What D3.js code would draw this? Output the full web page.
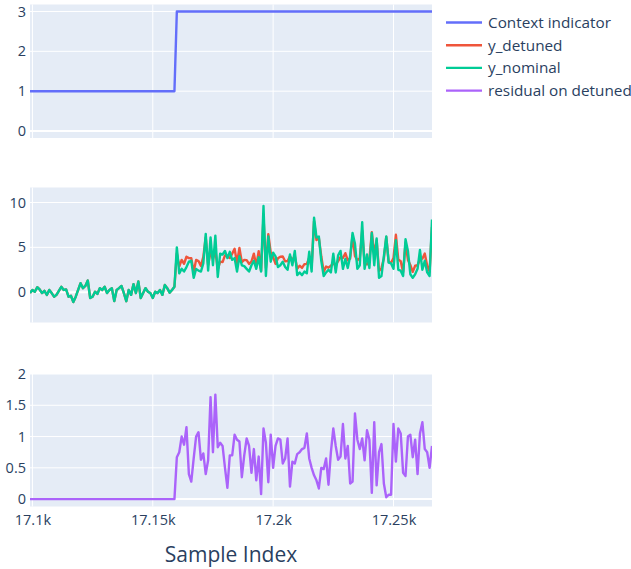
<!DOCTYPE html>
<html>
<head>
<meta charset="utf-8">
<script src="https://cdn.jsdelivr.net/npm/d3@7"></script>
<style>
  html, body { margin: 0; padding: 0; background: #fff; }
  svg { display: block; font-family: "Open Sans", "Noto Sans", sans-serif; }
</style>
</head>
<body>
<svg id="chart" width="631" height="569"></svg>
<script>
// ---- data -------------------------------------------------------------
const firstSample = 17099;

// context indicator: step from regime 1 to regime 3
const contextX = [17099, 17159, 17160, 17266];
const contextY = [1, 1, 3, 3];

// before the context change (17099 .. 17159) both outputs coincide
const outputBefore = [
  -0.1, 0.25, 0.05, 0.55, 0.3, -0.1, 0.15, -0.3, 0.25, -0.1,
  -0.5, -0.3, 0.15, 0.6, 0.25, 0.3, -0.5, -0.4, -1.1, -0.5,
  0.25, 1.0, 0.45, 0.7, 1.3, -0.65, -0.5, 0.05, -0.2, 0.45,
  0.25, 0.6, -0.1, 0.25, 0.45, -1.0, 0.25, 0.45, 0.7, -0.1,
  -1.0, 0.25, -0.3, 0.9, -0.1, 1.2, -0.65, -0.1, 0.45, 0.05,
  -0.1, -0.65, 0.05, -0.1, 0.25, -0.3, 0.8, 0.45, -0.05, 0.25,
  0.6
];

// after the change (17160 .. 17266)
const nominalAfter = [
  5.0, 2.1, 2.6, 2.3, 2.8, 3.4, 3.5, 1.6, 2.6, 2.4,
  2.3, 3.2, 6.5, 2.4, 6.1, 3.0, 6.3, 1.7, 4.3, 4.2,
  4.6, 3.8, 4.5, 3.6, 3.8, 2.3, 4.0, 3.0, 2.9, 2.6,
  2.3, 3.0, 3.5, 2.6, 3.9, 2.3, 9.6, 1.8, 6.2, 3.4,
  4.4, 4.0, 2.8, 3.0, 3.4, 2.8, 2.5, 4.2, 3.0, 4.6,
  1.9, 2.2, 1.9, 2.3, 2.1, 4.5, 2.3, 8.3, 6.1, 6.2,
  3.5, 1.8, 2.2, 2.5, 2.2, 4.3, 2.2, 4.1, 4.6, 2.6,
  3.7, 2.7, 4.0, 6.6, 5.4, 2.6, 3.0, 7.8, 2.6, 4.2,
  2.7, 6.6, 3.0, 6.0, 1.6, 1.8, 4.0, 6.2, 3.3, 3.2,
  2.6, 5.8, 2.5, 2.4, 1.8, 5.9, 4.6, 2.0, 1.6, 2.0,
  2.6, 4.7, 2.5, 3.5, 2.2, 1.8, 8.1
];

const detunedAfter = [
  4.33, 2.85, 3.6, 3.17, 3.95, 3.8, 3.78, 2.25, 3.6, 3.47,
  2.93, 3.93, 6.1, 3.02, 4.47, 3.75, 4.63, 2.53, 3.4, 3.35,
  4.1, 3.98, 3.8, 4.3, 4.83, 3.25, 4.92, 3.35, 3.6, 3.57,
  3.15, 3.42, 4.3, 2.9, 4.58, 2.38, 8.47, 2.7, 6.47, 4.43,
  3.9, 3.15, 3.77, 3.95, 3.97, 3.45, 3.47, 4.0, 3.6, 4.03,
  2.62, 2.95, 2.7, 3.12, 3.15, 3.85, 2.8, 7.92, 5.8, 6.03,
  4.0, 2.28, 2.85, 2.73, 2.95, 3.17, 3.05, 3.47, 3.92, 3.8,
  4.35, 3.55, 3.75, 6.32, 4.03, 3.55, 3.8, 6.83, 3.22, 3.1,
  3.65, 6.7, 4.23, 5.78, 2.35, 2.68, 3.75, 6.17, 3.37, 3.27,
  3.8, 6.4, 3.63, 3.45, 2.22, 5.53, 3.6, 3.03, 2.27, 2.95,
  3.0, 3.65, 3.73, 4.3, 2.95, 2.3, 7.25
];

const residualBefore = [
  0, 0, 0, 0, 0, 0, 0, 0, 0, 0,
  0, 0, 0, 0, 0, 0, 0, 0, 0, 0,
  0, 0, 0, 0, 0, 0, 0, 0, 0, 0,
  0, 0, 0, 0, 0, 0, 0, 0, 0, 0,
  0, 0, 0, 0, 0, 0, 0, 0, 0, 0,
  0, 0, 0, 0, 0, 0, 0, 0, 0, 0,
  0
];

const residualAfter = [
  0.67, 0.75, 1.0, 0.87, 1.15, 0.4, 0.28, 0.65, 1.0, 1.07,
  0.63, 0.73, 0.4, 0.62, 1.63, 0.75, 1.67, 0.83, 0.9, 0.85,
  0.5, 0.18, 0.7, 0.7, 1.03, 0.95, 0.92, 0.35, 0.7, 0.97,
  0.85, 0.42, 0.8, 0.3, 0.68, 0.08, 1.13, 0.9, 0.27, 1.03,
  0.5, 0.85, 0.97, 0.95, 0.57, 0.65, 0.97, 0.2, 0.6, 0.57,
  0.72, 0.75, 0.8, 0.82, 1.05, 0.65, 0.5, 0.38, 0.3, 0.17,
  0.5, 0.48, 0.65, 0.23, 0.75, 1.13, 0.85, 0.63, 0.68, 1.2,
  0.65, 0.85, 0.25, 0.28, 1.37, 0.95, 0.8, 0.97, 0.62, 1.1,
  0.95, 0.1, 1.23, 0.22, 0.75, 0.88, 0.25, 0.03, 0.07, 0.07,
  1.2, 0.6, 1.13, 1.05, 0.42, 0.37, 1.0, 1.03, 0.67, 0.95,
  0.4, 1.05, 1.23, 0.8, 0.75, 0.5, 0.85
];

const yNominal = outputBefore.concat(nominalAfter);
const yDetuned = outputBefore.concat(detunedAfter);
const residual = residualBefore.concat(residualAfter);

const xTicks = [17100, 17150, 17200, 17250];
const yTicksContext = [0, 1, 2, 3];
const yTicksOutput = [0, 5, 10];
const yTicksResidual = [0, 0.5, 1, 1.5, 2];

const seriesNames = ["Context indicator", "y_detuned", "y_nominal", "residual on detuned"];
const seriesColors = ["#636efa", "#ef553b", "#00cc96", "#ab63fa"];

// ---- layout -----------------------------------------------------------
const svg = d3.select("#chart");
const plotLeft = 30, plotRight = 432;
const textColor = "#2a3f5f";
const bg = "#e5ecf6";

const x = d3.scaleLinear()
  .domain([firstSample, firstSample + yNominal.length - 1])
  .range([plotLeft, plotRight]);

const panels = [
  { top: 4.5, bottom: 138, domain: [-0.175, 3.175], ticks: yTicksContext, fmt: d3.format("d") },
  { top: 187.5, bottom: 322.5, domain: [-3.38, 11.67], ticks: yTicksOutput, fmt: d3.format("d") },
  { top: 374, bottom: 506.5, domain: [-0.118, 2.0], ticks: yTicksResidual, fmt: d3.format("~g") }
];

panels.forEach((p, i) => {
  p.y = d3.scaleLinear().domain(p.domain).range([p.bottom, p.top]);
  const g = svg.append("g");
  p.g = g;

  g.append("rect")
    .attr("x", plotLeft).attr("y", p.top)
    .attr("width", plotRight - plotLeft).attr("height", p.bottom - p.top)
    .attr("fill", bg);

  // vertical grid
  g.append("g").selectAll("line").data(xTicks).join("line")
    .attr("x1", d => x(d)).attr("x2", d => x(d))
    .attr("y1", p.top).attr("y2", p.bottom)
    .attr("stroke", "#fff").attr("stroke-width", 1);

  // horizontal grid, zero line drawn heavier
  g.append("g").selectAll("line").data(p.ticks).join("line")
    .attr("x1", plotLeft).attr("x2", plotRight)
    .attr("y1", d => p.y(d)).attr("y2", d => p.y(d))
    .attr("stroke", "#fff").attr("stroke-width", d => d === 0 ? 2 : 1);

  // y axis labels
  const yAxis = d3.axisLeft(p.y).tickValues(p.ticks).tickFormat(p.fmt).tickSize(0).tickPadding(4);
  const ya = g.append("g").attr("transform", `translate(${plotLeft},0)`).call(yAxis);
  ya.select(".domain").remove();
  ya.selectAll("text").attr("fill", textColor).style("font-size", "14.5px")
    .style("font-family", "'Open Sans', sans-serif");

  g.append("clipPath").attr("id", "clip" + i)
    .append("rect").attr("x", plotLeft).attr("y", p.top)
    .attr("width", plotRight - plotLeft).attr("height", p.bottom - p.top);
});

// x axis labels under the bottom panel
const xAxis = d3.axisBottom(x).tickValues(xTicks).tickFormat(d3.format("~s")).tickSize(0).tickPadding(8);
const xa = svg.append("g").attr("transform", `translate(0,${panels[2].bottom})`).call(xAxis);
xa.select(".domain").remove();
xa.selectAll("text").attr("fill", textColor).style("font-size", "14.5px")
  .style("font-family", "'Open Sans', sans-serif");

svg.append("text")
  .attr("x", (plotLeft + plotRight) / 2).attr("y", 562)
  .attr("text-anchor", "middle")
  .attr("fill", textColor)
  .style("font-size", "21px")
  .text("Sample Index");

// ---- traces -----------------------------------------------------------
function drawLine(panelIndex, xs, ys, color) {
  const p = panels[panelIndex];
  const line = d3.line().x((d, i) => x(xs[i])).y(d => p.y(d));
  p.g.append("path")
    .datum(ys)
    .attr("clip-path", `url(#clip${panelIndex})`)
    .attr("d", line)
    .attr("fill", "none")
    .attr("stroke", color)
    .attr("stroke-width", 2.4)
    .attr("stroke-linejoin", "round");
}

const sampleIdx = yNominal.map((d, i) => firstSample + i);

drawLine(0, contextX, contextY, seriesColors[0]);
drawLine(1, sampleIdx, yDetuned, seriesColors[1]);
drawLine(1, sampleIdx, yNominal, seriesColors[2]);
drawLine(2, sampleIdx, residual, seriesColors[3]);

// ---- legend -----------------------------------------------------------
const legend = svg.append("g").attr("transform", "translate(446,22.5)");
const items = legend.selectAll("g").data(seriesNames).join("g")
  .attr("transform", (d, i) => `translate(0,${i * 22.7})`);
items.append("line")
  .attr("x1", 0).attr("x2", 36).attr("y1", 0).attr("y2", 0)
  .attr("stroke", (d, i) => seriesColors[i]).attr("stroke-width", 2.4);
items.append("text")
  .attr("x", 42).attr("y", 0).attr("dy", "0.35em")
  .attr("fill", textColor)
  .style("font-size", "15.3px")
  .text(d => d);
</script>
</body>
</html>
